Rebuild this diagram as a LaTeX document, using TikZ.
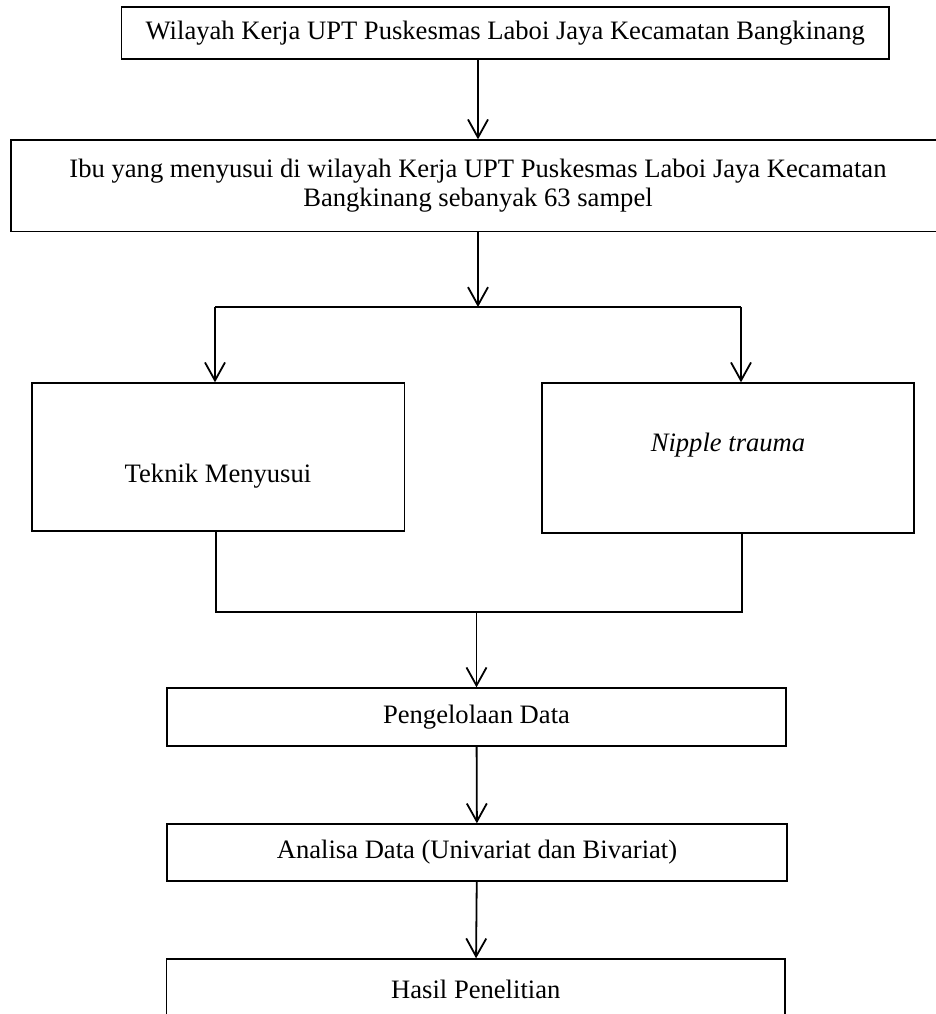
\documentclass[tikz,border=0pt]{standalone}
\usepackage{fontspec}
\setmainfont{Liberation Serif}
\usetikzlibrary{arrows.meta}

\begin{document}
\begin{tikzpicture}[x=0.5pt,y=0.5pt,yscale=-1,
  every node/.style={font=\fontsize{13.3}{14.5}\selectfont},
  box/.style={draw, line width=0.7pt, inner sep=0pt, align=center},
  conn/.style={line width=0.9pt, -{Straight Barb[length=9pt,width=10pt]}},
  bar/.style={line width=0.9pt}]
  %set diagram size 936 x 1014
  \useasboundingbox (0,0) rectangle (936,1014);
  %Shape: Rectangle [id:wilayah]
  \node [box, minimum width=383.75pt, minimum height=26pt] (wilayah) at (505.25,33) {Wilayah Kerja UPT Puskesmas Laboi Jaya Kecamatan Bangkinang};
  %Shape: Rectangle [id:ibu]
  \node [box, minimum width=467pt, minimum height=45.75pt] (ibu) at (478,185.75) {Ibu yang menyusui di wilayah Kerja UPT Puskesmas Laboi Jaya Kecamatan\\Bangkinang sebanyak 63 sampel};
  %Shape: Rectangle [id:teknik]
  \node [box, minimum width=186.25pt, minimum height=74pt] (teknik) at (218.25,457) {};
  %Shape: Rectangle [id:nipple]
  \node [box, minimum width=186pt, minimum height=75pt] (nipple) at (728,458) {};
  %Shape: Rectangle [id:olah]
  \node [box, minimum width=309.5pt, minimum height=29pt] (olah) at (476.5,717) {Pengelolaan Data};
  %Shape: Rectangle [id:analisa]
  \node [box, minimum width=310pt, minimum height=28.5pt] (analisa) at (477,852.5) {Analisa Data (Univariat dan Bivariat)};
  %Shape: Rectangle [id:hasil]
  \node [box, minimum width=309.2pt, minimum height=30.5pt] (hasil) at (475.8,989.5) {Hasil Penelitian};

  % Text Node
  \node [anchor=base, inner sep=0pt] (teknikText) at (218,482) {Teknik Menyusui};
  % Text Node
  \node [anchor=base, inner sep=0pt] (nippleText) at (728,451) {\itshape Nipple trauma};

  %Split and join points
  \coordinate (splitL) at (215,307);
  \coordinate (splitR) at (741,307);
  \coordinate (joinL) at (216,612);
  \coordinate (joinR) at (742,612);

  %Straight Lines
  \draw [conn] (wilayah.south -| ibu.north) -- (ibu.north);
  \draw [conn] (ibu.south) -- (ibu.south |- splitL);
  \draw [bar] (splitL) -- (splitR);
  \draw [conn] (splitL) -- (splitL |- teknik.north);
  \draw [conn] (splitR) -- (splitR |- nipple.north);
  \draw [bar] (joinL |- teknik.south) -- (joinL) -- (joinR) -- (joinR |- nipple.south);
  \draw [conn] (olah.north |- joinL) -- (olah.north);
  \draw [conn] (olah) -- (analisa);
  \draw [conn] (analisa) -- (hasil);
\end{tikzpicture}
\end{document}
